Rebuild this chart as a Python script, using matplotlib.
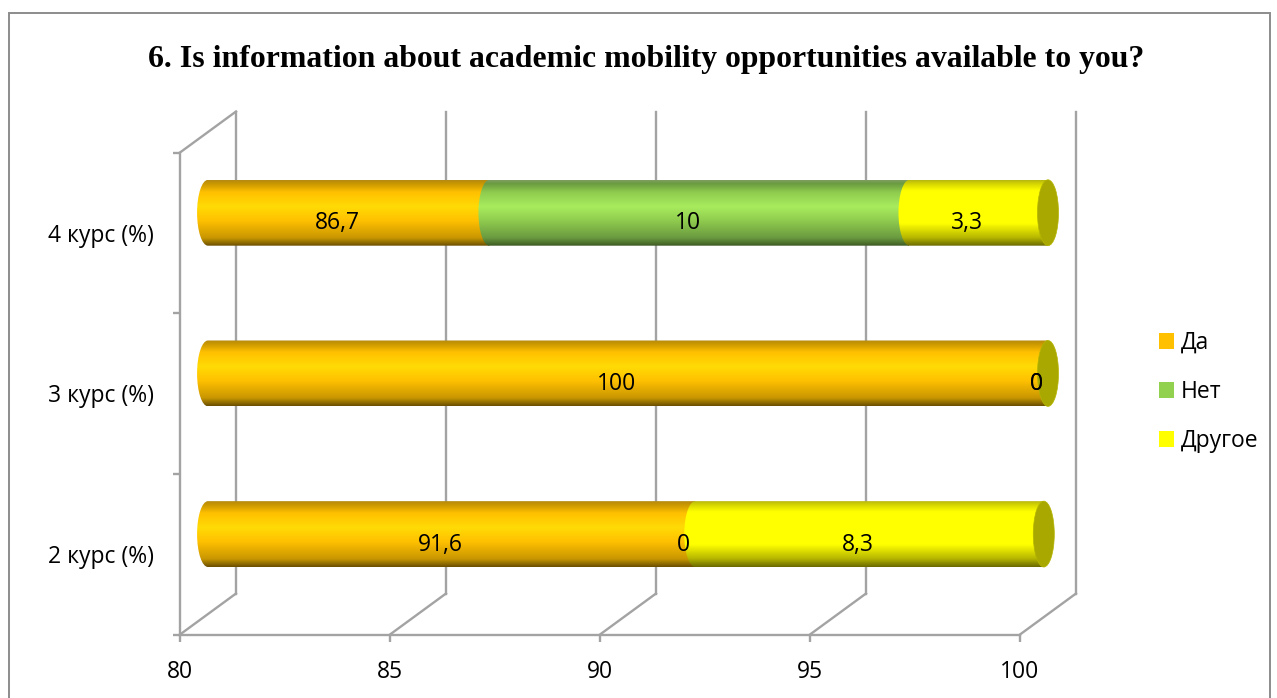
import numpy as np
import matplotlib
matplotlib.use("Agg")
import matplotlib.pyplot as plt
from matplotlib.colors import LinearSegmentedColormap
from matplotlib.patches import Ellipse, Patch, PathPatch, Rectangle
from matplotlib.path import Path

# Datos
titulo = "6. Is information about academic mobility opportunities available to you?"
cursos = ["2 курс (%)", "3 курс (%)", "4 курс (%)"]
series = ["Да", "Нет", "Другое"]
da = [91.6, 100, 86.7]
net = [0, 0, 10]
otro = [8.3, 0, 3.3]
etiquetas_da = ["91,6", "100", "86,7"]
etiquetas_net = ["0", "0", "10"]
etiquetas_otro = ["8,3", "0", "3,3"]
ticks_x = [80, 85, 90, 95, 100]

W, H = 1277, 698
GRIS = "#A3A3A3"
LW = 1.7
TAM = 16.5
plt.rcParams["font.family"] = ["Open Sans", "DejaVu Sans"]

# Profundidad del efecto 3D, en unidades de datos
prof_x = 1.333
prof_y = 0.255
alto_barra = 0.41
radio_x = 0.26


def mapa(nombre, oscuro_arriba, medio, brillo, oscuro_abajo, fondo):
    return LinearSegmentedColormap.from_list(nombre, [
        (0.0, fondo), (0.05, oscuro_arriba), (0.18, medio), (0.40, brillo),
        (0.62, medio), (0.88, oscuro_arriba), (1.0, oscuro_abajo)])


mapas = [
    mapa("da", "#C89600", "#FFC000", "#FFDB05", "#6B5000", "#B58A10"),
    mapa("net", "#6A9A40", "#8FCB4E", "#A8EC5E", "#3C5A22", "#7E9E60"),
    LinearSegmentedColormap.from_list("otro", [
        (0.0, "#B8B810"), (0.06, "#D8D800"), (0.16, "#FFFF00"), (0.66, "#FFFF00"),
        (0.88, "#B4B400"), (1.0, "#6A6A00")]),
]
colores_leyenda = ["#FFC000", "#92D050", "#FFFF00"]


def forma_segmento(x0, x1, yc):
    # Rectángulo con el lado izquierdo curvado (extremo del cilindro)
    arr, ab = yc + alto_barra / 2, yc - alto_barra / 2
    k = 0.5523
    verts = [(x0, ab),
             (x0 - k * radio_x, ab), (x0 - radio_x, yc - k * alto_barra / 2), (x0 - radio_x, yc),
             (x0 - radio_x, yc + k * alto_barra / 2), (x0 - k * radio_x, arr), (x0, arr),
             (x1, arr), (x1, ab), (x0, ab)]
    codes = [Path.MOVETO] + [Path.CURVE4] * 6 + [Path.LINETO, Path.LINETO, Path.CLOSEPOLY]
    return Path(verts, codes)


fig = plt.figure(figsize=(W / 100, H / 100), dpi=100)
fig.add_artist(Rectangle((9 / W, -0.02), (1270 - 9) / W, 1.02 - 13 / H, transform=fig.transFigure,
                         facecolor="none", edgecolor="#8C8C8C", linewidth=1.4))
ax = fig.add_axes([180 / W, 1 - 634.5 / H, 840 / W, 482 / H])
ax.patch.set_visible(False)

# Paredes y rejilla
for x in ticks_x:
    ax.plot([x + prof_x, x + prof_x], [prof_y, 3 + prof_y], color=GRIS, lw=LW, zorder=1, clip_on=False)
    ax.plot([x, x + prof_x], [0, prof_y], color=GRIS, lw=LW, zorder=1, clip_on=False)
ax.plot([80, 80 + prof_x], [3, 3 + prof_y], color=GRIS, lw=LW, zorder=1, clip_on=False)

# Barras apiladas
for i in range(len(cursos)):
    yc = i + 0.5 + 0.125
    inicio = 80
    acumulado = 0
    valores = [da[i], net[i], otro[i]]
    textos = [etiquetas_da[i], etiquetas_net[i], etiquetas_otro[i]]
    for valor, cmap, texto in zip(valores, mapas, textos):
        fin = acumulado + valor
        x0 = max(acumulado, inicio) + prof_x / 2
        x1 = fin + prof_x / 2
        if valor > 0:
            im = ax.imshow(np.linspace(0, 1, 128).reshape(-1, 1), cmap=cmap, aspect="auto", origin="upper",
                           extent=[x0 - radio_x, x1, yc - alto_barra / 2, yc + alto_barra / 2],
                           interpolation="bilinear", zorder=3)
            im.set_clip_path(PathPatch(forma_segmento(x0, x1, yc), transform=ax.transData))
            im.set_clip_box(fig.bbox)
        centro = (max(acumulado, inicio) + fin) / 2
        ax.text(centro + 0.39, i + 0.5 + 0.06, texto, ha="center", va="center", fontsize=TAM,
                color="black", zorder=6, clip_on=False)
        acumulado = fin
    ax.add_patch(Ellipse((acumulado + prof_x / 2, yc), 0.5, alto_barra, facecolor="#A8A800",
                         edgecolor="#B4B400", linewidth=0.5, zorder=4, clip_on=False))

ax.set_xlim(80, 100)
ax.set_ylim(0, 3)
for lado in ["top", "right"]:
    ax.spines[lado].set_visible(False)
for lado in ["left", "bottom"]:
    ax.spines[lado].set_color(GRIS)
    ax.spines[lado].set_linewidth(LW)

ax.set_xticks(ticks_x)
ax.tick_params(axis="x", length=5, width=LW, color=GRIS, labelsize=TAM, pad=13.5)
ax.set_yticks([0.5, 1.5, 2.5], cursos)
ax.tick_params(axis="y", which="major", length=0, labelsize=TAM, pad=18.5)
ax.set_yticks([0, 1, 2, 3], minor=True)
ax.tick_params(axis="y", which="minor", length=5, width=LW, color=GRIS)

fig.text(646 / W, 1 - 60 / H, titulo, ha="center", va="center", fontsize=22.9, fontweight="bold",
         family="Liberation Serif", color="black")

fig.legend(handles=[Patch(facecolor=c, label=s) for c, s in zip(colores_leyenda, series)],
           loc="center left", bbox_to_anchor=(1138 / W, 1 - 392 / H), frameon=False, fontsize=TAM,
           handlelength=0.655, handleheight=0.655, handletextpad=0.3, labelspacing=1.09)

fig.savefig("out.png", dpi=100)
